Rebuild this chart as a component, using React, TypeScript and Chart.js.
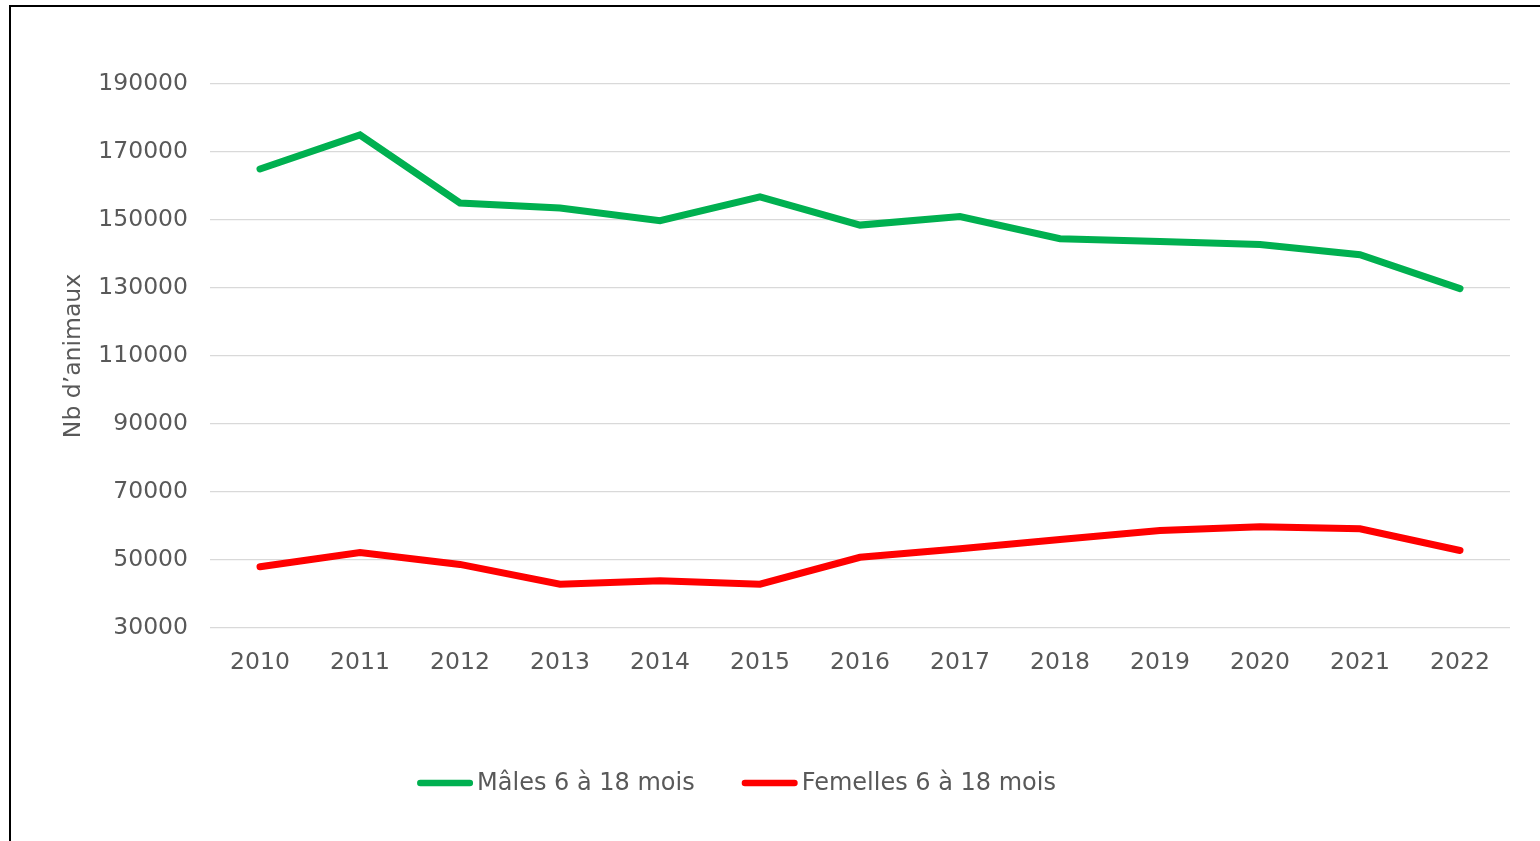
import React, { useEffect, useRef } from "react";
import { Chart, registerables } from "chart.js";

Chart.register(...registerables);

const years = ["2010", "2011", "2012", "2013", "2014", "2015", "2016", "2017", "2018", "2019", "2020", "2021", "2022"];
const malesValues = [165000, 175000, 155000, 153500, 149800, 156800, 148500, 151000, 144500, 143700, 142800, 139800, 129800];
const femellesValues = [48000, 52200, 48700, 42900, 43900, 42900, 50800, 53300, 56000, 58700, 59800, 59200, 52800];
const seriesLabels = ["Mâles 6 à 18 mois", "Femelles 6 à 18 mois"];
const yTitle = "Nb d’animaux";
const yMin = 30000;
const yMax = 190000;
const yStep = 20000;

const FONT = 'Verdana, "DejaVu Sans", sans-serif';
const TEXT_COLOR = "#595959";
const FONT_SIZE = 23.5;
const LEGEND_FONT_SIZE = 24;

const legendPlugin = {
  id: "customLegend",
  afterDraw(chart: any) {
    const ctx = chart.ctx;
    const boxW = 56;
    const gap = 4;
    const itemGap = 47;
    const centerX = 736.5;
    const y = 783;
    ctx.save();
    ctx.font = `${LEGEND_FONT_SIZE}px ${FONT}`;
    const items = chart.data.datasets.map((ds: any) => ({
      text: ds.label,
      color: ds.borderColor,
      w: boxW + gap + ctx.measureText(ds.label).width,
    }));
    const total = items.reduce((s: number, it: any) => s + it.w, 0) + itemGap * (items.length - 1);
    let x = centerX - total / 2;
    for (const it of items) {
      ctx.strokeStyle = it.color;
      ctx.lineWidth = 6.5;
      ctx.lineCap = "round";
      ctx.beginPath();
      ctx.moveTo(x + 3.25, y);
      ctx.lineTo(x + boxW - 3.25, y);
      ctx.stroke();
      ctx.fillStyle = TEXT_COLOR;
      ctx.textBaseline = "middle";
      ctx.textAlign = "left";
      ctx.fillText(it.text, x + boxW + gap, y + 1);
      x += it.w + itemGap;
    }
    ctx.restore();
  },
};

export default function App() {
  const ref = useRef<HTMLCanvasElement>(null);

  useEffect(() => {
    if (!ref.current) return;
    const chart = new Chart(ref.current, {
      type: "line",
      data: {
        labels: years,
        datasets: [
          {
            label: seriesLabels[0],
            data: malesValues,
            borderColor: "#00B050",
            backgroundColor: "#00B050",
            borderWidth: 7,
            borderCapStyle: "round",
            borderJoinStyle: "miter",
            pointRadius: 0,
            tension: 0,
          },
          {
            label: seriesLabels[1],
            data: femellesValues,
            borderColor: "#FF0000",
            backgroundColor: "#FF0000",
            borderWidth: 7,
            borderCapStyle: "round",
            borderJoinStyle: "miter",
            pointRadius: 0,
            tension: 0,
          },
        ],
      },
      options: {
        responsive: false,
        animation: false,
        devicePixelRatio: 1,
        layout: { padding: { top: 84, right: 30, left: 0, bottom: 0 } },
        plugins: {
          legend: { display: false },
          tooltip: { enabled: false },
        },
        scales: {
          x: {
            offset: true,
            grid: { display: false },
            border: { display: false },
            ticks: {
              color: TEXT_COLOR,
              font: { family: FONT, size: FONT_SIZE },
              padding: 13,
              maxRotation: 0,
            },
            afterFit(scale: any) {
              scale.height = 841 - 628;
            },
          },
          y: {
            min: yMin,
            max: yMax,
            grid: { color: "#D9D9D9", lineWidth: 1.3, drawTicks: false },
            border: { display: false },
            ticks: {
              stepSize: yStep,
              color: TEXT_COLOR,
              font: { family: FONT, size: FONT_SIZE },
              padding: 22,
              callback: (v: any) => String(v),
            },
            title: {
              display: true,
              text: yTitle,
              color: TEXT_COLOR,
              font: { family: FONT, size: FONT_SIZE },
              padding: { top: 60, bottom: 0 },
            },
            afterFit(scale: any) {
              scale.width = 210;
            },
          },
        },
      },
      plugins: [legendPlugin],
    } as any);
    return () => chart.destroy();
  }, []);

  return (
    <div style={{ position: "fixed", left: 0, top: 0, width: 1540, height: 841, overflow: "hidden", background: "#fff" }}>
      <canvas ref={ref} width={1540} height={841} style={{ position: "absolute", left: 0, top: 0, display: "block" }} />
      <div
        style={{
          position: "absolute",
          left: 9,
          top: 5,
          width: 1700,
          height: 1000,
          border: "2px solid #000",
          pointerEvents: "none",
        }}
      />
    </div>
  );
}
